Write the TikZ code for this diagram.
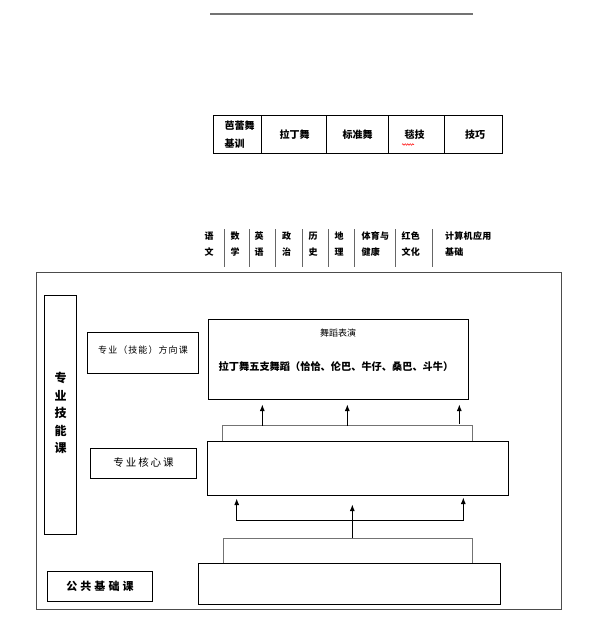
\documentclass[tikz,border=0pt]{standalone}
\usepackage{fontspec}
\newfontfamily\cjk{Noto Sans CJK SC}
\usetikzlibrary{arrows.meta,fit,decorations.pathmorphing}
\begin{document}
\begin{tikzpicture}[x=1pt,y=-1pt,
  box/.style={draw=black,line width=0.9pt,inner sep=0pt},
  gbox/.style={draw=black!70,line width=0.9pt,inner sep=0pt},
  link/.style={draw=black!55,line width=1pt},
  arr/.style={draw=black,line width=0.9pt,-{Latex[length=6.5pt,width=5pt]}},
  darr/.style={draw=black,line width=0.9pt,{Latex[length=6.5pt,width=5pt]}-{Latex[length=6.5pt,width=5pt]}},
  sep/.style={draw=black!60,line width=0.8pt},
  tb/.style={inner sep=0pt,font=\cjk\bfseries\fontsize{10}{18}\selectfont},
  sub/.style={inner sep=0pt,anchor=west,align=left,font=\cjk\bfseries\fontsize{9}{16}\selectfont\addfontfeature{LetterSpace=3}},
  lbl/.style={inner sep=0pt,font=\cjk\fontsize{9}{11}\selectfont}
]
\useasboundingbox (0,0) rectangle (600,621);

% top rule
\coordinate (tl) at (210,14);
\coordinate (tr) at (473,14);
\draw[draw=black!55,line width=1.2pt] (tl) -- (tr);

% table of dance courses
\node[box,fit={(213.3,115) (261,153.3)}] (c1) {};
\node[box,fit={(261,115) (326,153.3)}] (c2) {};
\node[box,fit={(326,115) (388,153.3)}] (c3) {};
\node[box,fit={(388,115) (444.3,153.3)}] (c4) {};
\node[box,fit={(444.3,115) (502.7,153.3)}] (c5) {};
\node[tb,align=left] (t1) at (239.5,134.5) {芭蕾舞\\基训};
\node[tb] (t2) at (294.5,135) {拉丁舞};
\node[tb] (t3) at (357.5,135) {标准舞};
\node[tb] (t4) at (414.5,135) {毯技};
\node[tb] (t5) at (475,135) {技巧};
\draw[red,line width=0.5pt,decorate,decoration={snake,amplitude=0.8pt,segment length=2.5pt}] (402,144.5) -- (414,144.5);

% public subjects row
\node[sub] (s1) at (204.5,244) {语\\文};
\node[sub] (s2) at (230.5,244) {数\\学};
\node[sub] (s3) at (254.5,244) {英\\语};
\node[sub] (s4) at (282,244) {政\\治};
\node[sub] (s5) at (308.5,244) {历\\史};
\node[sub] (s6) at (334.5,244) {地\\理};
\node[sub] (s7) at (361.5,244) {体育与\\健康};
\node[sub] (s8) at (401.5,244) {红色\\文化};
\node[sub] (s9) at (445,244) {计算机应用\\基础};
\foreach \x in {224,249.5,275,302,328,354,395,432}
  \draw[sep] (\x,229) -- (\x,267);

% outer frame
\node[gbox,fit={(36.7,272.3) (561.7,609.3)}] (frame) {};

% side label boxes
\node[box,fit={(44.3,295) (76.7,534.3)}] (skill) {};
\node[inner sep=0pt,align=center,font=\cjk\bfseries\fontsize{12}{17.5}\selectfont] (skillt) at (60.5,413) {专\\业\\技\\能\\课};
\node[box,fit={(87.3,332.3) (198.3,373.3)}] (dir) {};
\node[lbl,font=\cjk\fontsize{9}{11}\selectfont\addfontfeature{LetterSpace=12}] (dirt) at (143,350.5) {专业（技能）方向课};
\node[box,fit={(90,448.3) (196.7,478.3)}] (core) {};
\node[lbl,font=\cjk\fontsize{10.5}{12}\selectfont\addfontfeature{LetterSpace=18}] (coret) at (143.5,462) {专业核心课};
\node[box,fit={(47.3,571.7) (152.7,601.7)}] (pub) {};
\node[lbl,font=\cjk\bfseries\fontsize{11}{13}\selectfont\addfontfeature{LetterSpace=28}] (pubt) at (100,586) {公共基础课};

% main column boxes
\node[box,fit={(208.3,319.3) (468.3,399.3)}] (perf) {};
\node[lbl] (perft) at (338,333) {舞蹈表演};
\node[lbl,font=\cjk\bfseries\fontsize{10.2}{12}\selectfont] (latin) at (336,367) {拉丁舞五支舞蹈（恰恰、伦巴、牛仔、桑巴、斗牛）};
\node[box,fit={(207.3,441.3) (508.3,495.3)}] (mid) {};
\node[box,fit={(198.3,563.3) (500,604.3)}] (base) {};

% upper connectors: mid -> perf
\coordinate (mb1) at (222.7,441.3);
\coordinate (mb2) at (472.7,441.3);
\draw[link] (mb1) -- (222.7,425.7) -- (472.7,425.7) -- (mb2);
\coordinate (ua1s) at (262.3,425.7);
\coordinate (ua1e) at (262.3,404.5);
\coordinate (ua2s) at (347.3,425.7);
\coordinate (ua2e) at (347.3,404.5);
\coordinate (ua3s) at (459.3,423.5);
\coordinate (ua3e) at (459.3,404.5);
\draw[arr] (ua1s) -- (ua1e);
\draw[arr] (ua2s) -- (ua2e);
\draw[arr] (ua3s) -- (ua3e);

% lower connectors: base -> mid
\coordinate (bb1) at (223.3,563.3);
\coordinate (bb2) at (472,563.3);
\draw[link] (bb1) -- (223.3,538.3) -- (472,538.3) -- (bb2);
\coordinate (la0) at (352.3,538.3);
\coordinate (la1) at (352.3,504.5);
\draw[arr] (la0) -- (la1);
\coordinate (ll) at (236.7,498.5);
\coordinate (lr) at (463.3,497.5);
\draw[darr] (ll) -- (236.7,520.3) -- (463.3,520.3) -- (lr);
\end{tikzpicture}
\end{document}
